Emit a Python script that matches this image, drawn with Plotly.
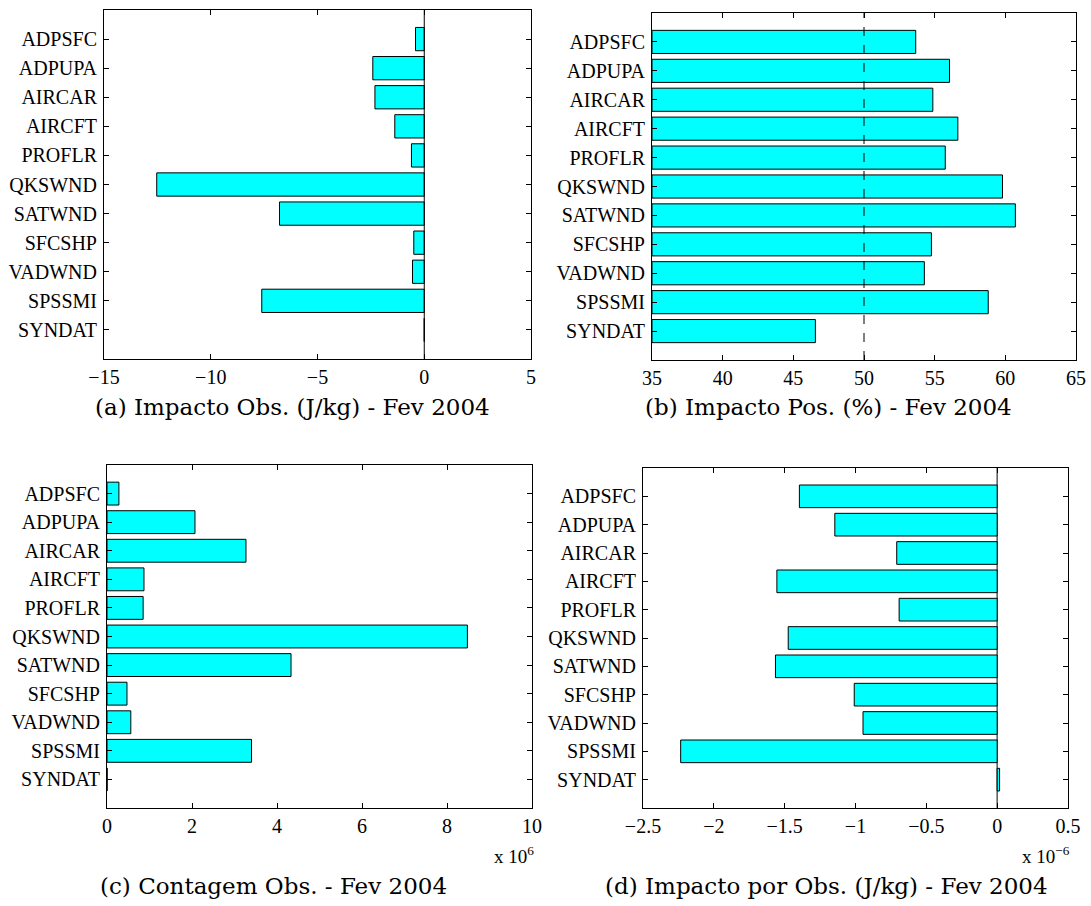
import plotly.graph_objects as go

categories = ["ADPSFC", "ADPUPA", "AIRCAR", "AIRCFT", "PROFLR", "QKSWND",
              "SATWND", "SFCSHP", "VADWND", "SPSSMI", "SYNDAT"]

# (a) Impacto Obs. (J/kg)
impact_obs = [-0.41, -2.41, -2.31, -1.38, -0.60, -12.53, -6.78, -0.49, -0.55, -7.61, 0.0001]
# (b) Impacto Pos. (%)
impact_pos = [53.66, 56.05, 54.87, 56.64, 55.75, 59.80, 60.71, 54.77, 54.27, 58.79, 46.56]
# (c) Contagem Obs.
obs_count = [0.28e6, 2.07e6, 3.27e6, 0.87e6, 0.85e6, 8.48e6, 4.33e6, 0.47e6, 0.56e6, 3.40e6, 3000]
# (d) Impacto por Obs. (J/kg)
impact_per_obs = [-1.396e-6, -1.146e-6, -0.709e-6, -1.555e-6, -0.692e-6, -1.475e-6,
                  -1.565e-6, -1.009e-6, -0.947e-6, -2.234e-6, 0.017e-6]

ticks_a = [-15, -10, -5, 0, 5]
ticks_b = [35, 40, 45, 50, 55, 60, 65]
ticks_c = [0, 2, 4, 6, 8, 10]
ticks_d = [-2.5, -2, -1.5, -1, -0.5, 0, 0.5]

captions = ["(a) Impacto Obs. (J/kg) - Fev 2004",
            "(b) Impacto Pos. (%) - Fev 2004",
            "(c) Contagem Obs. - Fev 2004",
            "(d) Impacto por Obs. (J/kg) - Fev 2004"]

W, H = 1091, 906
TICKFONT = dict(family="Liberation Serif, Times New Roman, serif", size=20, color="black")
CAPFONT = dict(family="DejaVu Serif, serif", size=23, color="black")

# panel boxes in pixels: (x0, x1, y0_top, y1_bottom)
boxes = [(104, 531, 10, 359), (652, 1076, 13, 360), (107, 532, 465, 808), (643, 1068, 468, 808)]

fig = go.Figure()

def fmt(v):
    s = ("%g" % v)
    return s.replace("-", "\u2212")

panels = [
    (impact_obs, ticks_a, ticks_a),
    (impact_pos, ticks_b, ticks_b),
    (obs_count, [t * 1e6 for t in ticks_c], ticks_c),
    (impact_per_obs, [t * 1e-6 for t in ticks_d], ticks_d),
]

for i, (vals, tvals, tlabels) in enumerate(panels):
    n = i + 1
    xa = "x" if n == 1 else f"x{n}"
    ya = "y" if n == 1 else f"y{n}"
    if n == 2:
        bar = go.Bar(x=[v - 35 for v in vals], base=35, y=categories, orientation="h")
    else:
        bar = go.Bar(x=vals, y=categories, orientation="h")
    bar.update(marker=dict(color="#00FFFF", line=dict(color="black", width=1)),
               xaxis=xa, yaxis=ya, showlegend=False, hoverinfo="skip")
    fig.add_trace(bar)
    x0, x1, yt, yb = boxes[i]
    axkw = dict(
        domain=[x0 / W, x1 / W], anchor=ya, range=[tvals[0], tvals[-1]],
        tickvals=tvals, ticktext=[fmt(t) for t in tlabels],
        ticks="inside", ticklen=5, tickcolor="black", tickwidth=1,
        showline=True, linecolor="black", linewidth=1, mirror="ticks",
        showgrid=False, zeroline=False, tickfont=TICKFONT, automargin=False,
    )
    aykw = dict(
        domain=[1 - yb / H, 1 - yt / H], anchor=xa,
        type="category", categoryorder="array", categoryarray=categories,
        range=[11, -1],
        ticks="inside", ticklen=5, tickcolor="black", tickwidth=1,
        showline=True, linecolor="black", linewidth=1, mirror="ticks",
        showgrid=False, zeroline=False, tickfont=TICKFONT, ticklabelstandoff=2,
        automargin=False,
    )
    fig.update_layout(**{("xaxis" if n == 1 else f"xaxis{n}"): axkw,
                         ("yaxis" if n == 1 else f"yaxis{n}"): aykw})
    fig.add_annotation(text=captions[i], xref="paper", yref="paper",
                       x=[292, 828, 273, 826][i] / W,
                       y=1 - [407, 407, 886, 886][i] / H,
                       xanchor="center", yanchor="middle", showarrow=False, font=CAPFONT)

# reference lines
fig.add_shape(type="line", xref="x", yref="y domain", x0=0, x1=0, y0=0, y1=1,
              line=dict(color="black", width=1))
fig.add_shape(type="line", xref="x2", yref="y2 domain", x0=50, x1=50, y0=0, y1=1,
              line=dict(color="black", width=1, dash="dash"))
fig.add_shape(type="line", xref="x4", yref="y4 domain", x0=0, x1=0, y0=0, y1=1,
              line=dict(color="#555555", width=1.5), layer="below")

# exponent labels
EXPFONT = dict(family="Liberation Serif, serif", size=19, color="black")
fig.add_annotation(text="x 10<sup>6</sup>", xref="paper", yref="paper",
                   x=536 / W, y=1 - 855 / H, xanchor="right", yanchor="middle",
                   showarrow=False, font=EXPFONT)
fig.add_annotation(text="x 10<sup>\u22126</sup>", xref="paper", yref="paper",
                   x=1072 / W, y=1 - 855 / H, xanchor="right", yanchor="middle",
                   showarrow=False, font=EXPFONT)

fig.update_layout(width=W, height=H, margin=dict(l=0, r=0, t=0, b=0),
                  paper_bgcolor="white", plot_bgcolor="white",
                  bargap=0.2, showlegend=False, hovermode=False)

fig.write_html("out.html",
               config={"displayModeBar": False},
               post_script="document.body.style.margin='0';"
                           "document.body.style.padding='0';"
                           "document.documentElement.style.overflow='hidden';"
                           "document.body.style.overflow='hidden';")
